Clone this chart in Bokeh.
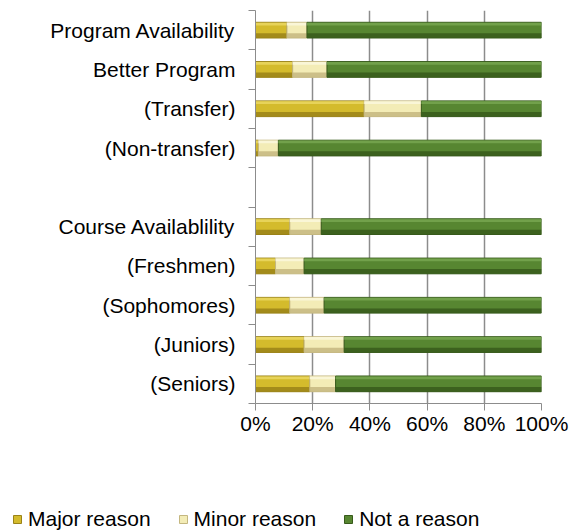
from bokeh.plotting import figure
from bokeh.layouts import column
from bokeh.models import ColumnDataSource, FixedTicker, NumeralTickFormatter, Legend, LegendItem, Range1d
from bokeh.embed import file_html
from bokeh.resources import INLINE

categories = ["Program Availability", "Better Program", "(Transfer)", "(Non-transfer)", "",
              "Course Availablility", "(Freshmen)", "(Sophomores)", "(Juniors)", "(Seniors)"]
major_reason = [11, 13, 38, 1, None, 12, 7, 12, 17, 19]
minor_reason = [7, 12, 20, 7, None, 11, 10, 12, 14, 9]
not_a_reason = [82, 75, 42, 92, None, 77, 83, 76, 69, 72]
series_names = ["Major reason", "Minor reason", "Not a reason"]
x_ticks = [0, 0.2, 0.4, 0.6, 0.8, 1.0]

mid_colors = ["#D4BB2C", "#F3ECB6", "#578631"]
dark_colors = ["#9A8318", "#C4B780", "#375A1B"]
light_colors = ["#E9D65E", "#FBF7DA", "#76A44F"]

FONT = "Liberation Sans"
FS = "21px"
n = len(categories)
centers = [n - 1 - i + 0.5 for i in range(n)]

p = figure(width=569, height=470, output_backend="svg", toolbar_location=None,
           x_range=Range1d(0, 1), y_range=Range1d(0, n),
           min_border_left=255, min_border_right=28, min_border_top=10, min_border_bottom=67)
p.outline_line_color = None
p.background_fill_color = "white"

# legend strip (its own plot so the legend can sit under the axis labels)
lg = figure(width=569, height=61, output_backend="svg", toolbar_location=None,
            x_range=Range1d(2, 3), y_range=Range1d(-2 * n, -n),
            x_axis_location=None, y_axis_location=None,
            min_border_left=0, min_border_right=0, min_border_top=0, min_border_bottom=0)
lg.outline_line_color = None
lg.xgrid.visible = False
lg.ygrid.visible = False
for fig in (p, lg):
    try:
        fig.frame_align = False
    except Exception:
        pass

series = [major_reason, minor_reason, not_a_reason]
rows = [i for i in range(n) if major_reason[i] is not None]
left = {i: 0.0 for i in rows}
bar_h = 0.40
legend_items = []
for s, vals in enumerate(series):
    ys, lefts, rights = [], [], []
    for i in rows:
        total = major_reason[i] + minor_reason[i] + not_a_reason[i]
        w = vals[i] / total
        ys.append(centers[i])
        lefts.append(left[i])
        rights.append(left[i] + w)
        left[i] += w
    src = ColumnDataSource(dict(y=ys, left=lefts, right=rights,
                                yb=[y - bar_h / 2 + 0.06 for y in ys],
                                yt=[y + bar_h / 2 - 0.045 for y in ys]))
    p.hbar(y="y", left="left", right="right", height=bar_h, source=src,
           fill_color=mid_colors[s], line_color=dark_colors[s], line_width=1)
    p.hbar(y="yb", left="left", right="right", height=0.12, source=src,
           fill_color=dark_colors[s], line_color=None, fill_alpha=0.85)
    p.hbar(y="yt", left="left", right="right", height=0.07, source=src,
           fill_color=light_colors[s], line_color=None, fill_alpha=0.9)
    # same bars in the legend strip (hidden) only to feed the legend glyphs
    r = lg.hbar(y="y", left="left", right="right", height=bar_h, source=src,
                fill_color=mid_colors[s], line_color=dark_colors[s], line_width=1,
                visible=False)
    legend_items.append(LegendItem(label=series_names[s], renderers=[r]))

# x axis
p.xaxis.ticker = FixedTicker(ticks=x_ticks)
p.xaxis.formatter = NumeralTickFormatter(format="0%")
p.xaxis.major_tick_out = 7
p.xaxis.major_tick_in = 0
p.xaxis.minor_tick_line_color = None
p.xaxis.axis_line_color = "#8C8C8C"
p.xaxis.major_tick_line_color = "#8C8C8C"
p.xaxis.major_label_text_font = FONT
p.xaxis.major_label_text_font_size = FS
p.xaxis.major_label_text_color = "black"
p.xaxis.major_label_standoff = 1
p.xgrid.ticker = FixedTicker(ticks=x_ticks)
p.xgrid.grid_line_color = "#8C8C8C"
p.xgrid.grid_line_width = 1.5
p.ygrid.visible = False

# y axis
p.yaxis.ticker = FixedTicker(ticks=centers, minor_ticks=list(range(n + 1)))
p.yaxis.major_label_overrides = {c: lab for c, lab in zip(centers, categories)}
p.yaxis.major_tick_out = 0
p.yaxis.major_tick_in = 0
p.yaxis.major_tick_line_color = None
p.yaxis.minor_tick_out = 7
p.yaxis.minor_tick_in = 0
p.yaxis.minor_tick_line_color = "#8C8C8C"
p.yaxis.axis_line_color = "#8C8C8C"
p.yaxis.major_label_text_font = FONT
p.yaxis.major_label_text_font_size = FS
p.yaxis.major_label_text_color = "black"
p.yaxis.major_label_standoff = 13

legend = Legend(items=legend_items, orientation="horizontal", location=(12, 0),
                glyph_width=10, glyph_height=10, label_standoff=6, spacing=27,
                padding=0, margin=0, border_line_alpha=0, background_fill_alpha=0,
                inactive_fill_alpha=0, click_policy="none",
                label_text_font=FONT, label_text_font_size=FS, label_text_color="black")
lg.add_layout(legend, "center")

open("out.html", "w").write(file_html(column(p, lg, spacing=0), INLINE))
